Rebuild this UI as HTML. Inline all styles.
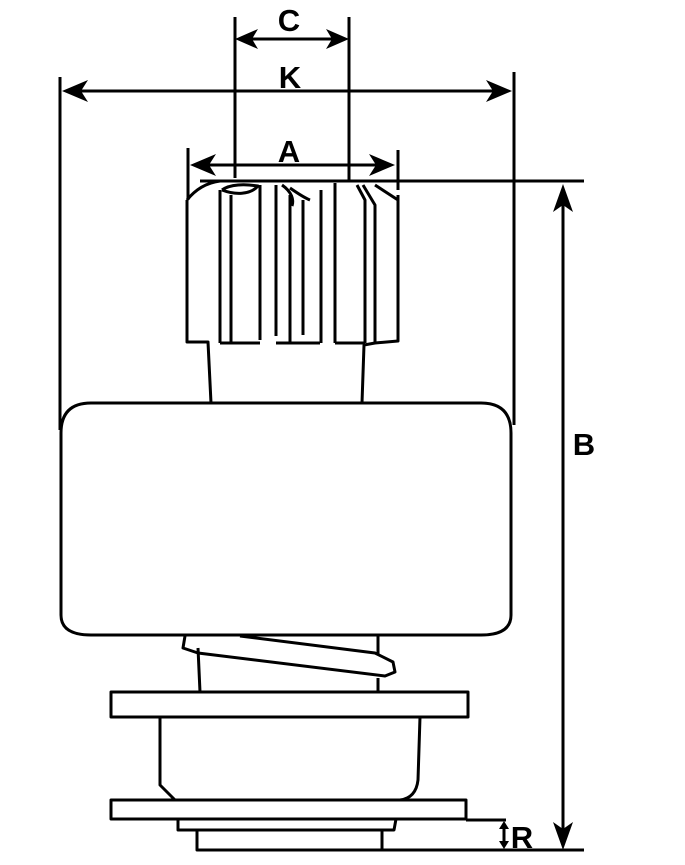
<!DOCTYPE html>
<html><head><meta charset="utf-8"><style>
html,body{margin:0;padding:0;background:#fff;}
svg{display:block}
text{font-family:"Liberation Sans",Arial,sans-serif;font-weight:bold;fill:#000}
</style></head><body>
<svg width="685" height="865" viewBox="0 0 685 865" xmlns="http://www.w3.org/2000/svg">
<g stroke="#000" stroke-width="3" fill="none" stroke-linejoin="round">
<line x1="235" y1="17" x2="235" y2="178"/>
<line x1="349" y1="17" x2="349" y2="180"/>
<line x1="60" y1="77" x2="60" y2="430"/>
<line x1="514" y1="72" x2="514" y2="425"/>
<line x1="188" y1="148" x2="188" y2="200"/>
<line x1="398" y1="150" x2="398" y2="190"/>
<line x1="200" y1="181" x2="584" y2="181"/>
<line x1="382" y1="850" x2="584" y2="850"/>
<line x1="466" y1="820" x2="506" y2="820"/>
<line x1="244" y1="39" x2="340" y2="39"/>
<line x1="70" y1="91" x2="505" y2="91"/>
<line x1="196" y1="165" x2="390" y2="165"/>
<line x1="563" y1="192" x2="563" y2="840"/>
<line x1="504" y1="826" x2="504" y2="844"/>
<path d="M187,200 L187,342 L208,342 L211,403"/>
<path d="M398,195 L398,341 L375,343 L364,345 L362,403"/>
<path d="M187,200 C195,190 205,183 220,181"/>
<path d="M220,343 L220,190 M231,343 L231,195 M260,340 L260,185 M276,336 L276,185 M290,343 L290,195 M303,335 L303,200 M321,343 L321,190 M335,343 L335,183 M365,343 L365,200 L357,185 M375,343 L375,205 L363,185"/>
<path d="M375,185 L398,200"/>
<path d="M220,343 L260,343 M276,343 L320,343 M335,343 L365,343"/>
<path d="M222,190 C235,195 250,195 258,186 C245,184 230,184 222,190"/>
<path d="M282,185 C292,192 294,200 292,206 M290,188 C300,195 305,198 310,200"/>
<path d="M91,403 L481,403 Q511,403 511,433 L511,615 Q511,635 481,635 L91,635 Q61,635 61,615 L61,433 Q61,403 91,403 Z"/>
<path d="M198,648 L200,692 M378,635 L378,655 M378,678 L378,692"/>
<path d="M185,636 L183,648 L198,653 L385,676 L395,672 L393,662 L375,653 L240,636"/>
<rect x="111" y="692" width="357" height="25"/>
<path d="M160,717 L160,785 L175,800 M420,717 L418,780 Q416,798 400,800"/>
<rect x="111" y="800" width="355" height="19"/>
<path d="M178,819 L178,830 L394,830 L396,819"/>
<path d="M197,830 L197,850 L382,850 L382,830"/>
</g>
<g fill="#000">
<polygon points="235,39 258,29 252,39 258,49"/>
<polygon points="349,39 326,29 332,39 326,49"/>
<polygon points="62,91 88,80 81,91 88,102"/>
<polygon points="512,91 486,80 493,91 486,102"/>
<polygon points="190,165 216,154 209,165 216,176"/>
<polygon points="395,165 369,154 376,165 369,176"/>
<polygon points="563,184 553,212 563,205 573,212"/>
<polygon points="563,850 553,822 563,829 573,822"/>
<polygon points="504,821 499,829 509,829"/>
<polygon points="504,849 499,841 509,841"/>
</g>
<text x="289" y="31" font-size="31" text-anchor="middle">C</text>
<text x="290" y="88" font-size="31" text-anchor="middle">K</text>
<text x="289" y="162" font-size="31" text-anchor="middle">A</text>
<text x="584" y="455" font-size="31" text-anchor="middle">B</text>
<text x="522" y="848" font-size="31" text-anchor="middle">R</text>
</svg>
</body></html>
